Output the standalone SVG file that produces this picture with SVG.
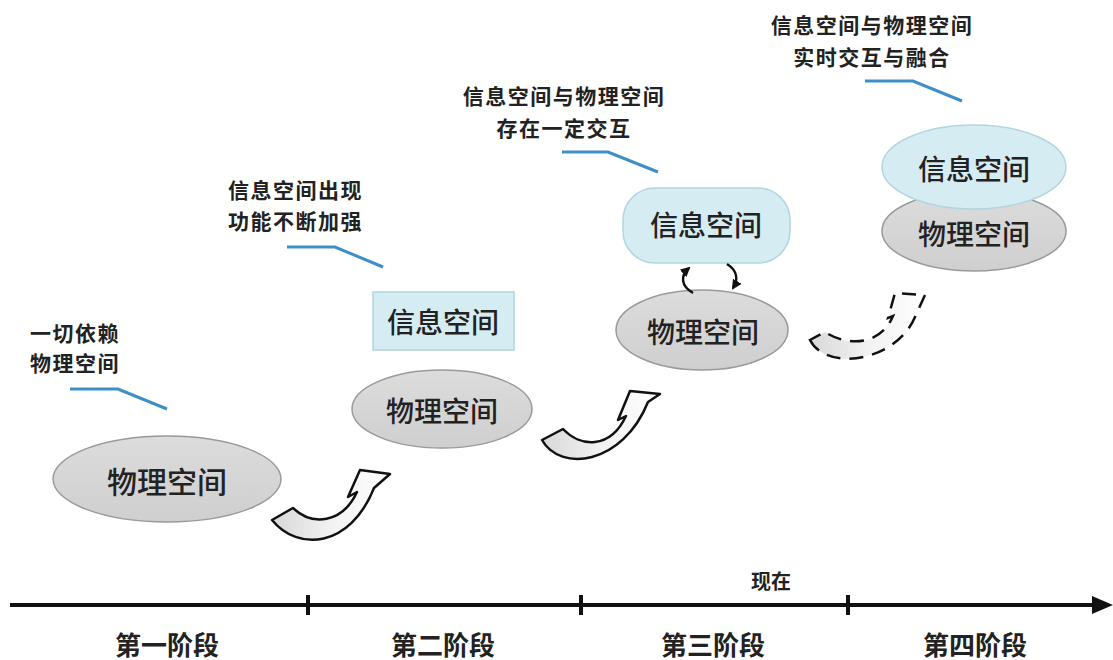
<svg xmlns="http://www.w3.org/2000/svg" width="1113" height="660" viewBox="0 0 1113 660">
<defs>
<style>
.node-text{font-family:"Noto Sans CJK SC","Noto Sans",sans-serif;font-size:28px;font-weight:500;fill:#222;text-anchor:middle;dominant-baseline:central}
.anno{font-family:"Noto Sans CJK SC","Noto Sans",sans-serif;font-size:21px;font-weight:bold;fill:#222;dominant-baseline:central;letter-spacing:1.5px}
.stage{font-family:"Noto Sans CJK SC","Noto Sans",sans-serif;font-size:26px;font-weight:bold;fill:#222;text-anchor:middle;dominant-baseline:central}
.phys{fill:url(#gphys);stroke:#9a9a9a;stroke-width:1.5}
.info{fill:#d6ecf3;stroke:#b3d5e0;stroke-width:1.5}
.blue{fill:none;stroke:#3d8fc6;stroke-width:3}
.bigarrow{fill:url(#garrow);stroke:#111;stroke-width:2.5;stroke-linejoin:round}
.dasharrow{fill:url(#garrow);stroke:#111;stroke-width:2.5;stroke-dasharray:14 9}
.small{fill:none;stroke:#111;stroke-width:2.5}
</style>
<linearGradient id="gphys" x1="0" y1="0" x2="0" y2="1">
<stop offset="0" stop-color="#dcdcdc"/><stop offset="1" stop-color="#cfcfcf"/>
</linearGradient>
<linearGradient id="garrow" x1="0" y1="0" x2="1" y2="0">
<stop offset="0" stop-color="#d8d8d8"/><stop offset="0.5" stop-color="#f2f2f2"/><stop offset="1" stop-color="#ffffff"/>
</linearGradient>
<marker id="ah" viewBox="0 0 10 10" refX="8" refY="5" markerWidth="4" markerHeight="4" orient="auto">
<path d="M0,0 L10,5 L0,10 Z" fill="#111"/>
</marker>
</defs>
<rect width="1113" height="660" fill="#fff"/>

<!-- Stage 1 -->
<g id="stage1-phys">
<ellipse class="phys" cx="167" cy="479" rx="114" ry="43"/>
<text class="node-text" x="167" y="480" style="font-size:30px">物理空间</text>
</g>
<g id="anno1">
<text class="anno" x="30" y="332">一切依赖</text>
<text class="anno" x="30" y="362">物理空间</text>
<polyline class="blue" points="70,389 118,389 167,409"/>
</g>

<!-- Stage 2 -->
<g id="stage2-info">
<rect class="info" x="373" y="292" width="141" height="58"/>
<text class="node-text" x="443" y="321">信息空间</text>
</g>
<g id="stage2-phys">
<ellipse class="phys" cx="442" cy="409" rx="90" ry="39"/>
<text class="node-text" x="442" y="410">物理空间</text>
</g>
<g id="anno2">
<text class="anno" x="228" y="189">信息空间出现</text>
<text class="anno" x="228" y="220">功能不断加强</text>
<polyline class="blue" points="287,247 335,247 383,267"/>
</g>

<!-- Stage 3 -->
<g id="stage3-info">
<rect class="info" x="623" y="188" width="167" height="75" rx="32" ry="32"/>
<text class="node-text" x="706" y="224">信息空间</text>
</g>
<g id="stage3-phys">
<ellipse class="phys" cx="702" cy="330" rx="86" ry="40"/>
<text class="node-text" x="703" y="331">物理空间</text>
</g>
<g id="anno3">
<text class="anno" x="564" y="95" text-anchor="middle">信息空间与物理空间</text>
<text class="anno" x="564" y="127" text-anchor="middle">存在一定交互</text>
<polyline class="blue" points="562,152 608,152 658,172"/>
</g>

<!-- Stage 4 -->
<g id="stage4-phys">
<ellipse class="phys" cx="974" cy="231" rx="92" ry="40"/>
<text class="node-text" x="974" y="233">物理空间</text>
</g>
<g id="stage4-info">
<ellipse class="info" cx="974" cy="167" rx="92" ry="42"/>
<text class="node-text" x="974" y="168">信息空间</text>
</g>
<g id="anno4">
<text class="anno" x="872" y="24" text-anchor="middle">信息空间与物理空间</text>
<text class="anno" x="872" y="56" text-anchor="middle">实时交互与融合</text>
<polyline class="blue" points="865,81 913,81 962,101"/>
</g>

<!-- Connectors -->
<g id="connectors">
<path class="bigarrow" d="M272,520 C 298,552 350,548 374,488 L 390,474 L 360,470 L 348,497 L 357,492 C 342,524 312,526 293,508 Z"/>
<path class="bigarrow" d="M542,440 C 560,472 622,466 648,402 L 660,394 L 630,391 L 618,420 L 626,416 C 610,450 580,447 563,429 Z"/>
<path class="dasharrow" d="M810,340 C 826,372 896,362 915,317 L 925,295 L 895,293 L 888,318 L 893,316 C 880,347 846,346 825,332 Z"/>
<path class="small" d="M693,293 C 681,286 680,276 689,268" marker-end="url(#ah)"/>
<path class="small" d="M727,264 C 738,271 738,280 733,288" marker-end="url(#ah)"/>
</g>

<!-- Timeline -->
<g id="timeline">
<line x1="10" y1="605" x2="1096" y2="605" stroke="#111" stroke-width="4"/>
<polygon points="1113,605 1092,596 1092,614" fill="#111"/>
<line x1="308" y1="595" x2="308" y2="615" stroke="#111" stroke-width="4"/>
<line x1="581" y1="595" x2="581" y2="615" stroke="#111" stroke-width="4"/>
<line x1="848" y1="595" x2="848" y2="615" stroke="#111" stroke-width="4"/>
<text class="anno" x="771" y="580" text-anchor="middle" style="font-size:20px;letter-spacing:0">现在</text>
<text class="stage" x="167" y="643">第一阶段</text>
<text class="stage" x="443" y="643">第二阶段</text>
<text class="stage" x="713" y="643">第三阶段</text>
<text class="stage" x="975" y="643">第四阶段</text>
</g>
</svg>
